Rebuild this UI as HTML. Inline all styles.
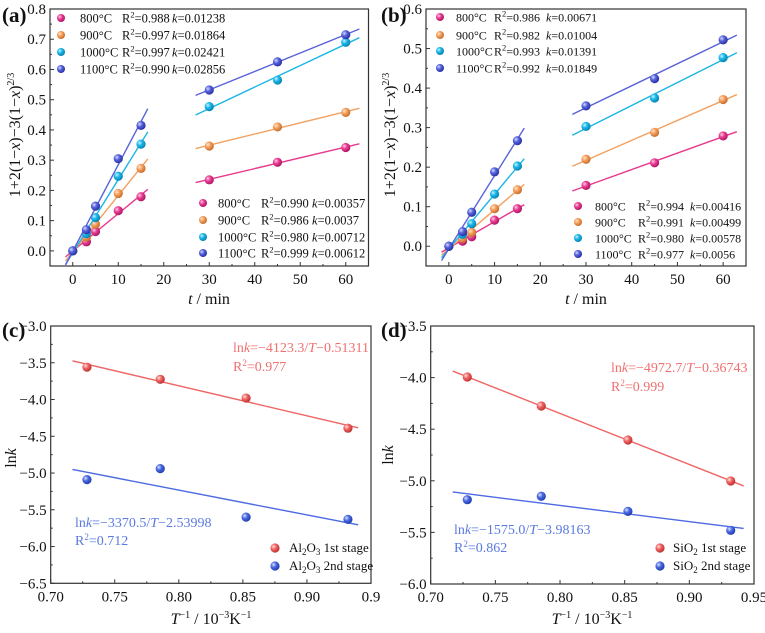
<!DOCTYPE html>
<html><head><meta charset="utf-8">
<style>
html,body{margin:0;padding:0;background:#fff;}
svg{display:block;font-family:"Liberation Serif",serif;}
text{font-family:"Liberation Serif",serif;}
</style></head>
<body>
<svg id="fig" width="765" height="633" viewBox="0 0 765 633" xmlns="http://www.w3.org/2000/svg">
<defs>
<radialGradient id="g800" cx="35%" cy="35%" r="65%"><stop offset="0" stop-color="#ffd0e6"/><stop offset="0.45" stop-color="#ea3d93"/><stop offset="1" stop-color="#b01866"/></radialGradient>
<radialGradient id="g900" cx="35%" cy="35%" r="65%"><stop offset="0" stop-color="#ffe6cc"/><stop offset="0.45" stop-color="#f5a060"/><stop offset="1" stop-color="#c8702c"/></radialGradient>
<radialGradient id="g1000" cx="35%" cy="35%" r="65%"><stop offset="0" stop-color="#ccf2ff"/><stop offset="0.45" stop-color="#1ab8ea"/><stop offset="1" stop-color="#0a84b4"/></radialGradient>
<radialGradient id="g1100" cx="35%" cy="35%" r="65%"><stop offset="0" stop-color="#d6dcff"/><stop offset="0.45" stop-color="#5662dc"/><stop offset="1" stop-color="#2a34a4"/></radialGradient>
<radialGradient id="gred" cx="35%" cy="35%" r="65%"><stop offset="0" stop-color="#ffe0e0"/><stop offset="0.45" stop-color="#f06464"/><stop offset="1" stop-color="#c03434"/></radialGradient>
<radialGradient id="gblue" cx="35%" cy="35%" r="65%"><stop offset="0" stop-color="#dce4ff"/><stop offset="0.45" stop-color="#4c6ae2"/><stop offset="1" stop-color="#2240b0"/></radialGradient>
</defs>
</svg>
<script>
// ---- Panel (a) data ----
const tEarly = [0, 3, 5, 10, 15];
const tLate = [30, 45, 60];
const aEarly800 = [0, 0.030, 0.064, 0.133, 0.179];
const aEarly900 = [0, 0.046, 0.088, 0.190, 0.273];
const aEarly1000 = [0, 0.057, 0.110, 0.247, 0.353];
const aEarly1100 = [0, 0.070, 0.148, 0.305, 0.415];
const aLate800 = [0.235, 0.293, 0.342];
const aLate900 = [0.347, 0.410, 0.458];
const aLate1000 = [0.477, 0.565, 0.690];
const aLate1100 = [0.532, 0.625, 0.715];
const aLegTop = [["800°C","0.988","0.01238"],["900°C","0.997","0.01864"],["1000°C","0.997","0.02421"],["1100°C","0.990","0.02856"]];
const aLegBot = [["800°C","0.990","0.00357"],["900°C","0.986","0.0037"],["1000°C","0.980","0.00712"],["1100°C","0.999","0.00612"]];
const aYTicks = [0.0, 0.1, 0.2, 0.3, 0.4, 0.5, 0.6, 0.7, 0.8];
// ---- Panel (b) data ----
const bEarly800 = [0, 0.013, 0.024, 0.066, 0.095];
const bEarly900 = [0, 0.020, 0.035, 0.095, 0.143];
const bEarly1000 = [0, 0.030, 0.057, 0.132, 0.203];
const bEarly1100 = [0, 0.037, 0.086, 0.188, 0.267];
const bLate800 = [0.154, 0.211, 0.279];
const bLate900 = [0.220, 0.288, 0.371];
const bLate1000 = [0.303, 0.375, 0.477];
const bLate1100 = [0.355, 0.424, 0.522];
const bLegTop = [["800°C","0.986","0.00671"],["900°C","0.982","0.01004"],["1000°C","0.993","0.01391"],["1100°C","0.992","0.01849"]];
const bLegBot = [["800°C","0.994","0.00416"],["900°C","0.991","0.00499"],["1000°C","0.980","0.00578"],["1100°C","0.977","0.0056"]];
const bYTicks = [0.0, 0.1, 0.2, 0.3, 0.4, 0.5, 0.6];
const tTicks = [0, 10, 20, 30, 40, 50, 60];
// ---- Panels (c),(d) data ----
const invT = [0.7283, 0.7855, 0.8525, 0.9320];
const cFirst = [-3.56, -3.725, -3.98, -4.39];
const cSecond = [-5.09, -4.94, -5.60, -5.63];
const dFirst = [-3.994, -4.275, -4.605, -5.002];
const dSecond = [-5.183, -5.150, -5.296, -5.480];
const cYTicks = [-3.0, -3.5, -4.0, -4.5, -5.0, -5.5, -6.0, -6.5];
const dYTicks = [-3.5, -4.0, -4.5, -5.0, -5.5, -6.0];
const invTTicks = [0.70, 0.75, 0.80, 0.85, 0.90, 0.95];
const cXLabels = ["0.70","0.75","0.80","0.85","0.90","0.9"];
const dXLabels = ["0.70","0.75","0.80","0.85","0.90","0.95"];

const NS = "http://www.w3.org/2000/svg";
const svg = document.getElementById("fig");
function mk(tag, attrs, parent){const e=document.createElementNS(NS,tag);for(const k in attrs)e.setAttribute(k,attrs[k]);(parent||svg).appendChild(e);return e;}
function fit(xs, ys){const n=xs.length;let sx=0,sy=0,sxx=0,sxy=0;for(let i=0;i<n;i++){sx+=xs[i];sy+=ys[i];sxx+=xs[i]*xs[i];sxy+=xs[i]*ys[i];}const m=(n*sxy-sx*sy)/(n*sxx-sx*sx);return {m:m,b:(sy-m*sx)/n};}
function fmt(v,d){return (v<0?"\u2212":"")+Math.abs(v).toFixed(d);}

function panel(o){
  const g=mk("g",{});
  
  
  const X=v=>o.L+(v-o.x0)/(o.x1-o.x0)*(o.R-o.L);
  const Y=v=>o.B-(v-o.y0)/(o.y1-o.y0)*(o.B-o.T);
  const ticks=mk("g",{},g);
  
  
  for(let v=o.y0;v<=o.y1+1e-9;v+=o.yMinor){const y=Y(v);const major=Math.abs(Math.round(v/o.yMajor)*o.yMajor-v)<1e-6;mk("line",{x1:o.L,x2:o.L+(major?4:2),y1:y,y2:y,stroke:"#333","stroke-width":1},ticks);}
  for(let v=o.xt0;v<=o.x1+1e-9;v+=o.xMinor){const x=X(v);const major=Math.abs(Math.round((v-o.xt0)/o.xMajor)*o.xMajor-(v-o.xt0))<1e-6;mk("line",{x1:x,x2:x,y1:o.B,y2:o.B-(major?4:2),stroke:"#333","stroke-width":1},ticks);}
  const fr=mk("rect",{x:o.L,y:o.T,width:o.R-o.L,height:o.B-o.T,fill:"none",stroke:"#333","stroke-width":1.2},g);
  
  
  const yl=mk("g",{"font-size":15,"text-anchor":"end",fill:"#111"},g);
  
  
  o.yTicks.forEach(v=>{const t=mk("text",{x:o.L-4,y:Y(v)+5},yl);t.textContent=fmt(v,1);});
  const xl=mk("g",{"font-size":15,"text-anchor":"middle",fill:"#111"},g);
  
  
  o.xTicks.forEach((v,i)=>{const t=mk("text",{x:X(v),y:o.B+18},xl);t.textContent=o.xLabels?o.xLabels[i]:String(v);});
  o.series.forEach(s=>{
    const sg=mk("g",{},g);
    
    
    const f=fit(s.x,s.y);
    const ln=mk("line",{x1:X(s.xa),y1:Y(f.m*s.xa+f.b),x2:X(s.xb),y2:Y(f.m*s.xb+f.b),stroke:s.color,"stroke-width":1.4},sg);
    
    
    s.x.forEach((xv,i)=>{
      const c=mk("circle",{cx:X(xv),cy:Y(s.y[i]),r:4.6,fill:"url(#"+s.grad+")"},sg);
      
      
    });
  });
  return {g:g,X:X,Y:Y};
}
function txt(html, attrs, name){const t=mk("text",attrs);t.innerHTML=html;return t;}
function ball(x,y,grad,name,r){const c=mk("circle",{cx:x,cy:y,r:r||4.6,fill:"url(#"+grad+")"});}

const temps=["800","900","1000","1100"];
const cols={"800":"#e8388c","900":"#f3a05e","1000":"#1cb6e6","1100":"#5862d8"};
function kinPanel(name,L,R,B,T,y1,yTicks,early,late){
  const series=[];
  temps.forEach((tp,i)=>{
    series.push({name:"early-"+tp+"C",x:tEarly,y:early[i],xa:-1.6,xb:16.5,color:cols[tp],grad:"g"+tp});
    series.push({name:"late-"+tp+"C",x:tLate,y:late[i],xa:27,xb:63,color:cols[tp],grad:"g"+tp});
  });
  return panel({name:name,L:L,R:R,T:T,B:B,x0:-5,x1:65,y0:-0.05,y1:y1,xt0:0,xMajor:10,xMinor:5,yMajor:0.1,yMinor:0.05,yTicks:yTicks,xTicks:tTicks,series:series});
}
kinPanel("panel-a-chart",50,368.5,266,9,0.8,aYTicks,[aEarly800,aEarly900,aEarly1000,aEarly1100],[aLate800,aLate900,aLate1000,aLate1100]);
kinPanel("panel-b-chart",426,746,266,9,0.6,bYTicks,[bEarly800,bEarly900,bEarly1000,bEarly1100],[bLate800,bLate900,bLate1000,bLate1100]);

function legend(rows,bx,tx,rx,kx,ys,prefix,fs){
  rows.forEach((r,i)=>{
    const tp=temps[i];
    ball(bx,ys[i],"g"+tp,prefix+"-legend-marker-"+tp,4);
    txt(r[0],{x:tx,y:ys[i]+4.5,"font-size":fs,fill:"#111"},prefix+"-legend-label-"+tp);
    txt('R<tspan dy="-5" font-size="8.5">2</tspan><tspan dy="5">='+r[1]+'</tspan>',{x:rx,y:ys[i]+4.5,"font-size":fs,fill:"#111"},prefix+"-legend-r2-"+tp);
    txt('<tspan font-style="italic">k</tspan>='+r[2],{x:kx,y:ys[i]+4.5,"font-size":fs,fill:"#111"},prefix+"-legend-k-"+tp);
  });
}
legend(aLegTop,61,80,122,172,[18,35,52,69],"a-top",12.5);
legend(aLegBot,203,218,261,312,[203,220,237,253],"a-bottom",12.5);
legend(bLegTop,440,456,494,546,[17,35,51,68],"b-top",12);
legend(bLegBot,578,595,638,690,[206,222,238,254],"b-bottom",12);

const ytA='1+2(1\u2212<tspan font-style="italic">x</tspan>)\u22123(1\u2212<tspan font-style="italic">x</tspan>)<tspan dy="-6" font-size="10">2/3</tspan>';
txt(ytA,{x:0,y:0,"font-size":16,"text-anchor":"middle",transform:"translate(20,135) rotate(-90)",fill:"#111"},"a-y-axis-title");
txt(ytA,{x:0,y:0,"font-size":16,"text-anchor":"middle",transform:"translate(395,135) rotate(-90)",fill:"#111"},"b-y-axis-title");
txt('<tspan font-style="italic">t</tspan> / min',{x:209,y:304,"font-size":16,"text-anchor":"middle",fill:"#111"},"a-x-axis-title");
txt('<tspan font-style="italic">t</tspan> / min',{x:586,y:304,"font-size":16,"text-anchor":"middle",fill:"#111"},"b-x-axis-title");

const RED="#f06464", BLUE="#4c6ae2";
panel({name:"panel-c-chart",L:50.7,R:371,T:326,B:583.3,x0:0.70,x1:0.95,y0:-6.5,y1:-3.0,xt0:0.70,xMajor:0.05,xMinor:0.025,yMajor:0.5,yMinor:0.25,yTicks:cYTicks,xTicks:invTTicks,xLabels:cXLabels,
  series:[{name:"al2o3-1st-stage",x:invT,y:cFirst,xa:0.717,xb:0.94,color:RED,grad:"gred"},{name:"al2o3-2nd-stage",x:invT,y:cSecond,xa:0.717,xb:0.94,color:BLUE,grad:"gblue"}]});
panel({name:"panel-d-chart",L:430.7,R:754,T:326,B:584,x0:0.70,x1:0.95,y0:-6.0,y1:-3.5,xt0:0.70,xMajor:0.05,xMinor:0.025,yMajor:0.5,yMinor:0.25,yTicks:dYTicks,xTicks:invTTicks,xLabels:dXLabels,
  series:[{name:"sio2-1st-stage",x:invT,y:dFirst,xa:0.717,xb:0.942,color:RED,grad:"gred"},{name:"sio2-2nd-stage",x:invT,y:dSecond,xa:0.717,xb:0.942,color:BLUE,grad:"gblue"}]});

const ACR="#f07070", ACB="#5a7ae0";
txt('ln<tspan font-style="italic">k</tspan>=\u22124123.3/<tspan font-style="italic">T</tspan>\u22120.51311',{x:233,y:352,"font-size":14,fill:ACR},"c-fit-equation-1st");
txt('R<tspan dy="-5" font-size="9">2</tspan><tspan dy="5">=0.977</tspan>',{x:233,y:371,"font-size":14,fill:ACR},"c-r2-1st");
txt('ln<tspan font-style="italic">k</tspan>=\u22123370.5/<tspan font-style="italic">T</tspan>\u22122.53998',{x:75,y:527,"font-size":14,fill:ACB},"c-fit-equation-2nd");
txt('R<tspan dy="-5" font-size="9">2</tspan><tspan dy="5">=0.712</tspan>',{x:75,y:545,"font-size":14,fill:ACB},"c-r2-2nd");
txt('ln<tspan font-style="italic">k</tspan>=\u22124972.7/<tspan font-style="italic">T</tspan>\u22120.36743',{x:611,y:372,"font-size":14,fill:ACR},"d-fit-equation-1st");
txt('R<tspan dy="-5" font-size="9">2</tspan><tspan dy="5">=0.999</tspan>',{x:611,y:391,"font-size":14,fill:ACR},"d-r2-1st");
txt('ln<tspan font-style="italic">k</tspan>=\u22121575.0/<tspan font-style="italic">T</tspan>\u22123.98163',{x:454,y:534,"font-size":14,fill:ACB},"d-fit-equation-2nd");
txt('R<tspan dy="-5" font-size="9">2</tspan><tspan dy="5">=0.862</tspan>',{x:454,y:552,"font-size":14,fill:ACB},"d-r2-2nd");

ball(275,548,"gred","c-legend-marker-1st");
txt('Al<tspan dy="3" font-size="9">2</tspan><tspan dy="-3">O</tspan><tspan dy="3" font-size="9">3</tspan><tspan dy="-3"> 1st stage</tspan>',{x:289,y:552,"font-size":13,fill:"#111"},"c-legend-label-1st");
ball(275,566,"gblue","c-legend-marker-2nd");
txt('Al<tspan dy="3" font-size="9">2</tspan><tspan dy="-3">O</tspan><tspan dy="3" font-size="9">3</tspan><tspan dy="-3"> 2nd stage</tspan>',{x:289,y:570,"font-size":13,fill:"#111"},"c-legend-label-2nd");
ball(660,548,"gred","d-legend-marker-1st");
txt('SiO<tspan dy="3" font-size="9">2</tspan><tspan dy="-3"> 1st stage</tspan>',{x:673,y:552,"font-size":13,fill:"#111"},"d-legend-label-1st");
ball(660,566,"gblue","d-legend-marker-2nd");
txt('SiO<tspan dy="3" font-size="9">2</tspan><tspan dy="-3"> 2nd stage</tspan>',{x:673,y:570,"font-size":13,fill:"#111"},"d-legend-label-2nd");

txt('ln<tspan font-style="italic">k</tspan>',{x:0,y:0,"font-size":16,"text-anchor":"middle",transform:"translate(16,458) rotate(-90)",fill:"#111"},"c-y-axis-title");
txt('ln<tspan font-style="italic">k</tspan>',{x:0,y:0,"font-size":16,"text-anchor":"middle",transform:"translate(393,455) rotate(-90)",fill:"#111"},"d-y-axis-title");
const xtC='<tspan font-style="italic">T</tspan><tspan dy="-6" font-size="10">\u22121</tspan><tspan dy="6"> / 10</tspan><tspan dy="-6" font-size="10">\u22123</tspan><tspan dy="6">K</tspan><tspan dy="-6" font-size="10">\u22121</tspan>';
txt(xtC,{x:211,y:624,"font-size":16,"text-anchor":"middle",fill:"#111"},"c-x-axis-title");
txt(xtC,{x:592,y:624,"font-size":16,"text-anchor":"middle",fill:"#111"},"d-x-axis-title");

txt('(a)',{x:2,y:22,"font-size":21,"font-weight":"bold",fill:"#111"},"panel-label-a");
txt('(b)',{x:381,y:22,"font-size":21,"font-weight":"bold",fill:"#111"},"panel-label-b");
txt('(c)',{x:2,y:337,"font-size":21,"font-weight":"bold",fill:"#111"},"panel-label-c");
txt('(d)',{x:381,y:337,"font-size":21,"font-weight":"bold",fill:"#111"},"panel-label-d");
</script>
</body></html>
